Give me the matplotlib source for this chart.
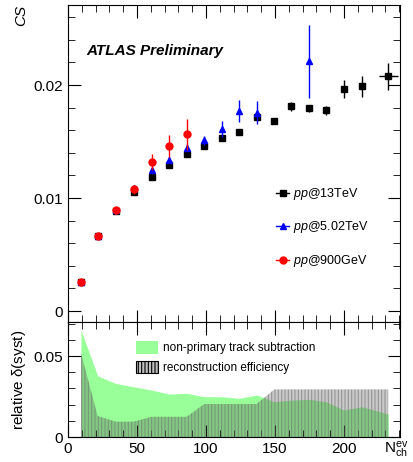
import numpy as np
import matplotlib.pyplot as plt
from matplotlib.lines import Line2D
from matplotlib.patches import Patch
from matplotlib.ticker import MultipleLocator, FuncFormatter

plt.rcParams['font.family'] = ['Liberation Sans', 'DejaVu Sans']
plt.rcParams['mathtext.fontset'] = 'custom'
plt.rcParams['mathtext.rm'] = 'Liberation Sans'
plt.rcParams['mathtext.it'] = 'Liberation Sans:italic'
plt.rcParams['hatch.linewidth'] = 0.8

# data
nch = [9.4, 21.5, 34.5, 47.6, 60.6, 73.4, 86, 98.8, 111.4, 124.1, 136.7,
       149.5, 161.8, 174.4, 187, 199.8, 213, 232]
cs_13 = [0.0026, 0.0066, 0.00885, 0.0105, 0.01183, 0.01295, 0.01387, 0.01457,
         0.01531, 0.01587, 0.01714, 0.01681, 0.01811, 0.01794, 0.01776,
         0.01962, 0.01988, 0.02077]
err_13 = [0.0001, 0.0001, 0.0001, 0.0001, 0.0001, 0.0001, 0.0001, 0.0001,
          0.0001, 0.0001, 0.0002, 0.0002, 0.0004, 0.0003, 0.0004, 0.0008,
          0.0009, 0.0012]
xerr_13 = [0] * 17 + [7]

nch_5 = nch[:11] + [174.4]
cs_5 = [0.0026, 0.0066, 0.0089, 0.0109, 0.0125, 0.0134, 0.01445, 0.01513,
        0.0161, 0.0177, 0.01755, 0.0221]
err_5 = [0.0001, 0.0001, 0.0001, 0.0002, 0.0002, 0.0002, 0.0003, 0.0004,
         0.0007, 0.001, 0.001, 0.00325]

nch_09 = nch[:7]
cs_09 = [0.0026, 0.0066, 0.0089, 0.0108, 0.01321, 0.0146, 0.01564]
err_09 = [0.0001, 0.0002, 0.0002, 0.0004, 0.0007, 0.001, 0.0014]

syst_nonprim = [0.066, 0.0378, 0.0331, 0.031, 0.029, 0.0265, 0.027, 0.0249,
                0.0249, 0.0239, 0.026, 0.0218, 0.0228, 0.0233, 0.0218,
                0.0167, 0.0187, 0.0142]
syst_reco = [0.052, 0.013, 0.0095, 0.0095, 0.0125, 0.0125, 0.0125, 0.0204,
             0.0204, 0.0204, 0.0204, 0.0294, 0.0294, 0.0294, 0.0294, 0.0294,
             0.0294, 0.0294]

fig = plt.figure(figsize=(4.13, 4.62), dpi=100)
ax1 = fig.add_axes([0.1646, 0.303, 0.804, 0.686])
ax2 = fig.add_axes([0.1646, 0.054, 0.804, 0.249], sharex=ax1)

ax1.errorbar(nch, cs_13, yerr=err_13, xerr=xerr_13, fmt='s', color='black',
             ms=5, elinewidth=1, capsize=0, zorder=3)
ax1.errorbar(nch_5, cs_5, yerr=err_5, fmt='^', color='blue', ms=5,
             elinewidth=1, capsize=0, zorder=4)
ax1.errorbar(nch_09, cs_09, yerr=err_09, fmt='o', color='red', ms=5,
             elinewidth=1, capsize=0, zorder=5)

fmt = FuncFormatter(lambda v, p: f'{v:g}')

ax1.set_xlim(0, 240.6)
ax1.set_ylim(-0.00097, 0.02708)
ax1.yaxis.set_major_locator(MultipleLocator(0.01))
ax1.yaxis.set_minor_locator(MultipleLocator(0.002))
ax1.yaxis.set_major_formatter(fmt)
ax1.xaxis.set_major_locator(MultipleLocator(50))
ax1.xaxis.set_minor_locator(MultipleLocator(10))
ax1.tick_params(labelbottom=False)
ax1.set_ylabel('CS', loc='top', style='italic', fontsize=11)

ax1.text(0.055, 0.843, 'ATLAS Preliminary', transform=ax1.transAxes,
         fontsize=11, fontweight='bold', style='italic')

handles = [Line2D([], [], color='black', marker='s', ms=5, lw=1),
           Line2D([], [], color='blue', marker='^', ms=5, lw=1),
           Line2D([], [], color='red', marker='o', ms=5, lw=1)]
labels = [r'$pp$@13TeV', r'$pp$@5.02TeV', r'$pp$@900GeV']
ax1.legend(handles, labels, loc='upper left', bbox_to_anchor=(0.593, 0.465),
           frameon=False, fontsize=9, labelspacing=1.4, handlelength=1.05,
           handletextpad=0.3)

ax2.fill_between(nch, 0, syst_nonprim, color='#99ff99', lw=0, zorder=1)
ax2.fill_between(nch, 0, syst_reco, facecolor=(0.3, 0.3, 0.3, 0.3),
                 edgecolor=(0.45, 0.45, 0.45, 0.6), hatch='|||||', lw=0,
                 zorder=2)
ax2.set_ylim(0, 0.071)
ax2.yaxis.set_major_locator(MultipleLocator(0.05))
ax2.yaxis.set_minor_locator(MultipleLocator(0.01))
ax2.yaxis.set_major_formatter(fmt)
ax2.set_ylabel(r'relative $\mathrm{\delta}$(syst)', fontsize=11)
fig.text(0.988, 0.004, r'N$_{\rm ch}^{\rm ev}$', ha='right', va='bottom',
         fontsize=11)

leg_handles = [Patch(facecolor='#99ff99', edgecolor='none'),
               Patch(facecolor=(0.75, 0.75, 0.75), edgecolor='black',
                     hatch='|||||', lw=0.8)]
ax2.legend(leg_handles, ['non-primary track subtraction',
                         'reconstruction efficiency'],
           loc='upper left', bbox_to_anchor=(0.172, 0.93), frameon=False,
           fontsize=8.5, handlelength=1.9, handleheight=1.3,
           labelspacing=0.55, handletextpad=0.4)

for ax in (ax1, ax2):
    ax.tick_params(which='both', direction='in', top=True, right=True,
                   labelsize=11)
    ax.tick_params(which='major', length=9)
    ax.tick_params(which='minor', length=5)

plt.savefig('out.png', dpi=100)
